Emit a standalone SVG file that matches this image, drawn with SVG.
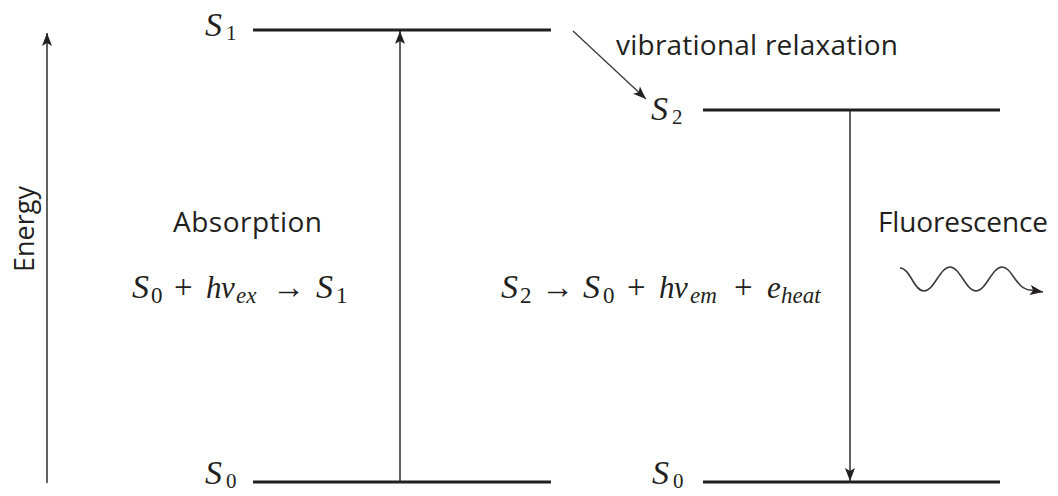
<svg xmlns="http://www.w3.org/2000/svg" width="1058" height="496" viewBox="0 0 1058 496">
<style>
.lvl{stroke:#231f20;stroke-width:3;fill:none}
.arr{stroke:#3a3a3a;stroke-width:1.6;fill:none}
.lbl{font-family:"Open Sans","Liberation Sans",sans-serif;font-size:28px;fill:#231f20}
.m{font-family:"Liberation Serif","DejaVu Serif",serif;font-size:31px;fill:#231f20}
.i{font-style:italic}
.S{font-style:italic;font-size:34px}
.op{font-size:33px}
.sub{font-size:21px}
.fs{font-size:23px}
</style>
<defs>
<marker id="ah" markerUnits="userSpaceOnUse" markerWidth="16" markerHeight="12" viewBox="-14 -6 16 12" refX="0" refY="0" orient="auto">
<path d="M0,0 L-13,-5 L-10,0 L-13,5 Z" fill="#231f20"/>
</marker>
</defs>
<rect width="1058" height="496" fill="#fff"/>
<g id="connectors">
<line class="arr" x1="47" y1="483" x2="47" y2="33" marker-end="url(#ah)"/>
<line class="arr" x1="400" y1="482" x2="400" y2="31" marker-end="url(#ah)"/>
<line class="arr" x1="850" y1="110" x2="850" y2="481" marker-end="url(#ah)"/>
<line class="arr" x1="573" y1="31" x2="646" y2="99" marker-end="url(#ah)" style="stroke-width:1.3"/>
<path class="arr" d="M900,268 C910,268 914,291 924,291 C934,291 940,267 950,267 C960,267 966,291 976,291 C986,291 992,267 1002,267 C1012,267 1016,289 1030,290 L1043,292" marker-end="url(#ah)"/>
</g>
<g id="S1">
<line class="lvl" x1="253" y1="30" x2="551" y2="30"/>
<text class="m" y="36"><tspan class="S" x="205">S</tspan><tspan class="sub" x="226" y="40">1</tspan></text>
</g>
<g id="S2">
<line class="lvl" x1="703" y1="110" x2="1000" y2="110"/>
<text class="m" y="120"><tspan class="S" x="651">S</tspan><tspan class="sub" x="672" y="124">2</tspan></text>
</g>
<g id="S0-left">
<line class="lvl" x1="253" y1="482" x2="551" y2="482"/>
<text class="m" y="484"><tspan class="S" x="205">S</tspan><tspan class="sub" x="226" y="488">0</tspan></text>
</g>
<g id="S0-right">
<line class="lvl" x1="703" y1="482" x2="1000" y2="482"/>
<text class="m" y="484"><tspan class="S" x="652">S</tspan><tspan class="sub" x="673" y="488">0</tspan></text>
</g>
<g id="energy">
<text class="lbl" transform="translate(34,229) rotate(-90)" text-anchor="middle" style="font-size:27px">Energy</text>
</g>
<g id="vibrational">
<text class="lbl" x="616" y="55" textLength="282">vibrational relaxation</text>
</g>
<g id="absorption">
<text class="lbl" x="173" y="232" textLength="149">Absorption</text>
<text class="m" y="298"><tspan class="S" x="132">S</tspan><tspan class="sub fs" x="151" y="303">0</tspan><tspan class="op" x="174" y="298">+</tspan><tspan class="i" x="206">h</tspan><tspan class="i" x="221">ν</tspan><tspan class="i sub fs" x="236" y="303">ex</tspan><tspan class="op" x="272" y="298">→</tspan><tspan class="S" x="316">S</tspan><tspan class="sub fs" x="336" y="303">1</tspan></text>
</g>
<g id="fluorescence">
<text class="lbl" x="878" y="232" textLength="170">Fluorescence</text>
<text class="m" y="298"><tspan class="S" x="501">S</tspan><tspan class="sub fs" x="520" y="303">2</tspan><tspan class="op" x="541" y="298">→</tspan><tspan class="S" x="583">S</tspan><tspan class="sub fs" x="603" y="303">0</tspan><tspan class="op" x="627" y="298">+</tspan><tspan class="i" x="659">h</tspan><tspan class="i" x="674">ν</tspan><tspan class="i sub fs" x="690" y="303">em</tspan><tspan class="op" x="734" y="298">+</tspan><tspan class="i" x="767">e</tspan><tspan class="i sub fs" x="781" y="303">heat</tspan></text>
</g>
</svg>
